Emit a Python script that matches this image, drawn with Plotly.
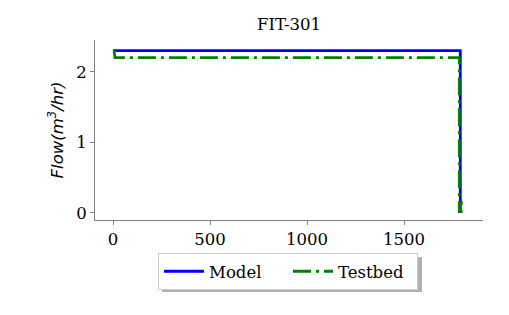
import plotly.graph_objects as go

model_t = [0, 1790, 1790]
model_y = [2.3, 2.3, 0.0]
testbed_t = [0, 5, 10, 1780, 1785, 1785, 1790, 1795, 1795]
testbed_y = [2.3, 2.3, 2.2, 2.2, 2.2, 0.0, 0.15, 0.15, 0.0]

W, H = 509, 315
L, R, T, B = 95, 26, 40, 95
pw, ph = W - L - R, H - T - B
FS = 16.5

def px(x):
    return (x - L) / pw

def py(y):
    return (H - B - y) / ph

fig = go.Figure()
fig.add_trace(go.Scatter(x=model_t, y=model_y, mode="lines", name="Model",
                         line=dict(color="#0000ff", width=2.8)))
fig.add_trace(go.Scatter(x=testbed_t, y=testbed_y, mode="lines", name="Testbed",
                         line=dict(color="#008000", width=2.8, dash="18px,5px,3px,5px")))

fig.add_shape(type="rect", xref="paper", yref="paper",
              x0=px(162), x1=px(422), y0=py(292), y1=py(257),
              fillcolor="#b0b0b0", line=dict(width=0), layer="below")

fig.update_layout(
    width=W, height=H,
    margin=dict(l=L, r=R, t=T, b=B),
    paper_bgcolor="white", plot_bgcolor="white",
    font=dict(family="DejaVu Serif", size=FS, color="black"),
    title=dict(text="FIT-301", x=(L + pw / 2) / W, xanchor="center", y=1 - 24 / H, yanchor="middle",
               font=dict(size=FS)),
    showlegend=True,
    legend=dict(orientation="h", x=px(288), xanchor="center", y=py(253), yanchor="top",
                bgcolor="white", bordercolor="#cccccc", borderwidth=1,
                font=dict(size=FS), itemwidth=40, entrywidth=74, entrywidthmode="pixels",
                tracegroupgap=0),
    xaxis=dict(range=[-93, 1907], tickvals=[0, 500, 1000, 1500], showgrid=False, zeroline=False,
               showline=True, linecolor="#808080", linewidth=1, ticks="outside", ticklen=4,
               tickcolor="#808080"),
    yaxis=dict(range=[-0.1, 2.45], tickvals=[0, 1, 2], showgrid=False, zeroline=False,
               showline=True, linecolor="#808080", linewidth=1, ticks="outside", ticklen=4,
               tickcolor="#808080",
               title=dict(text="<i>Flow(m<sup>3</sup>/hr)</i>", font=dict(family="DejaVu Sans", size=FS),
                          standoff=8)),
)

fig.write_html("out.html")
